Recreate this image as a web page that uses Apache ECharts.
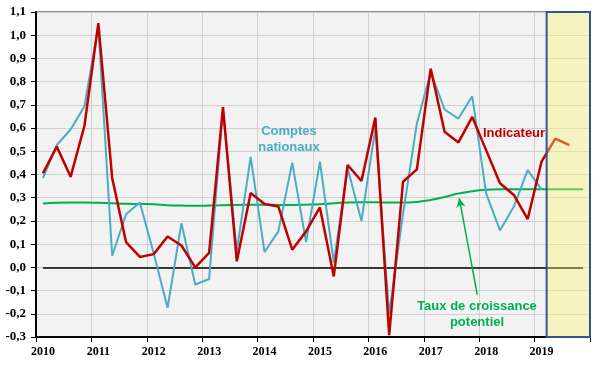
<!DOCTYPE html>
<html><head><meta charset="utf-8">
<script src="https://cdn.jsdelivr.net/npm/echarts@6/dist/echarts.min.js"></script>
<style>html,body{margin:0;padding:0;background:#fff}#c{width:600px;height:371px}</style>
</head><body><div id="c"></div>
<script>
// Tick labels (years) and quarterly categories
const years = ['2010','2011','2012','2013','2014','2015','2016','2017','2018','2019'];
const quarterNames = ['T1','T2','T3','T4'];
const categories = years.flatMap(y => quarterNames.map(q => y + ' ' + q));

// Indicateur (red), 2010T1 .. 2019T3
const indicateur = [0.405, 0.52, 0.39, 0.61, 1.052, 0.385, 0.109, 0.045,
  0.057, 0.133, 0.094, 0.0, 0.062, 0.69, 0.026, 0.32,
  0.273, 0.262, 0.076, 0.155, 0.258, -0.039, 0.441, 0.372,
  0.645, -0.292, 0.369, 0.422, 0.856, 0.584, 0.538, 0.648,
  0.505, 0.362, 0.312, 0.208, 0.455, 0.555, 0.527];

// Comptes nationaux (blue), 2010T1 .. 2019T1
const comptes = [0.384, 0.527, 0.594, 0.694, 1.04, 0.05, 0.229, 0.279,
  0.06, -0.174, 0.19, -0.074, -0.05, 0.68, 0.07, 0.476,
  0.066, 0.155, 0.451, 0.109, 0.455, 0.02, 0.427, 0.2,
  0.6, -0.2, 0.23, 0.62, 0.84, 0.68, 0.641, 0.737,
  0.319, 0.159, 0.262, 0.419, 0.336];

// Taux de croissance potentiel (green), 2010T1 .. 2019T4
const potentiel = [0.275, 0.278, 0.279, 0.279, 0.278, 0.276, 0.274, 0.273,
  0.272, 0.268, 0.266, 0.265, 0.266, 0.268, 0.269, 0.270,
  0.270, 0.269, 0.269, 0.270, 0.272, 0.276, 0.279, 0.280,
  0.280, 0.279, 0.279, 0.282, 0.290, 0.303, 0.318, 0.328,
  0.334, 0.336, 0.336, 0.336, 0.336, 0.336, 0.336, 0.336];

const chart = echarts.init(document.getElementById('c'), null, {renderer: 'canvas'});
const serifBold = {fontFamily: '"Liberation Serif", "Times New Roman", serif', fontWeight: 'bold', color: '#000'};
const sansBold = '"Liberation Sans", Arial, sans-serif';

chart.setOption({
  animation: false,
  backgroundColor: '#fff',
  grid: {left: 36, right: 10, top: 12, bottom: 34, show: true,
    backgroundColor: '#f2f2f2', borderColor: '#222', borderWidth: 1},
  xAxis: [{
    type: 'category', data: categories, boundaryGap: true,
    axisLine: {show: true, lineStyle: {color: '#000', width: 2}, onZero: false},
    axisTick: {show: true, length: 5, lineStyle: {color: '#000', width: 1}},
    axisLabel: Object.assign({interval: 3, fontSize: 12, margin: 9,
      formatter: v => v.slice(0, 4)}, serifBold),
    splitLine: {show: true, lineStyle: {color: '#d0d0d0', width: 1}}
  }, {
    type: 'value', min: 0, max: 40, show: false
  }],
  yAxis: {
    type: 'value', min: -0.3, max: 1.1, interval: 0.1,
    axisLine: {show: true, lineStyle: {color: '#000', width: 2}, onZero: false},
    axisTick: {show: true, length: 5, lineStyle: {color: '#000'}},
    axisLabel: Object.assign({fontSize: 13, margin: 10,
      formatter: v => (Math.abs(v) < 1e-9 ? 0 : v).toFixed(1).replace('.', ',')}, serifBold),
    splitLine: {show: true, lineStyle: {color: '#d0d0d0', width: 1}}
  },
  series: [
    {name: 'Taux de croissance potentiel', type: 'line', data: potentiel, smooth: true,
      symbol: 'none', z: 2, lineStyle: {color: '#00b050', width: 2},
      markLine: {silent: true, symbol: 'none', label: {show: false}, z: 1,
        lineStyle: {color: '#000', width: 1.5, type: 'solid'},
        data: [[{coord: [categories[0], 0]}, {coord: [categories[categories.length - 1], 0]}]]}},
    {name: 'Comptes nationaux', type: 'line', data: comptes, symbol: 'none', z: 3,
      lineStyle: {color: '#4bacc6', width: 2}},
    {name: 'Indicateur', type: 'line', data: indicateur, symbol: 'none', z: 4,
      lineStyle: {color: '#c00000', width: 2.5}},
    {name: 'bande', type: 'line', xAxisIndex: 1, data: [], z: 6, symbol: 'none',
      markArea: {silent: true, z: 10,
        itemStyle: {color: 'rgba(255,245,110,0.38)', borderColor: '#2f5597', borderWidth: 2},
        data: [[{coord: [36.87, -0.3]}, {coord: [40, 1.1]}]]},
      markLine: {silent: true, symbol: ['none', 'arrow'], symbolSize: [7, 9], label: {show: false},
        lineStyle: {color: '#00b050', width: 1.5, type: 'solid'},
        data: [[{coord: [31.86, -0.117]}, {coord: [30.56, 0.298]}]]}}
  ],
  graphic: [
    {type: 'text', x: 289, y: 123, z: 20, style: {text: 'Comptes\nnationaux',
      textAlign: 'center', fill: '#4bacc6', font: 'bold 13px ' + sansBold, lineHeight: 16}},
    {type: 'text', x: 483, y: 127, z: 20, style: {text: 'Indicateur',
      fill: '#c00000', font: 'bold 13px ' + sansBold}},
    {type: 'text', x: 477, y: 298, z: 20, style: {text: 'Taux de croissance\npotentiel',
      textAlign: 'center', fill: '#00b050', font: 'bold 13px ' + sansBold, lineHeight: 16}}
  ]
});
</script></body></html>
